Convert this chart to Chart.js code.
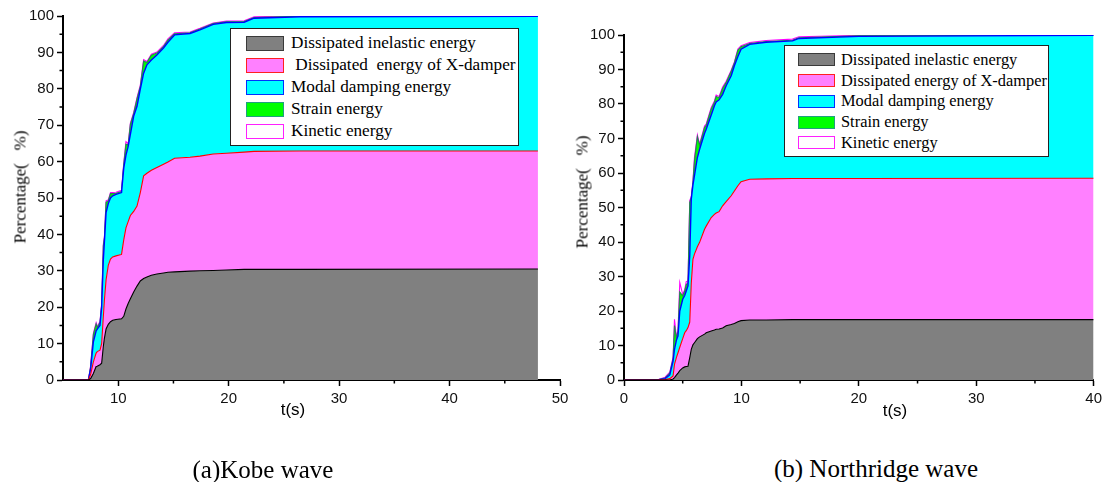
<!DOCTYPE html>
<html>
<head>
<meta charset="utf-8">
<script src="https://cdn.jsdelivr.net/npm/chart.js@4.4.1/dist/chart.umd.min.js"></script>
<style>
  body { margin: 0; background: #fff; width: 1106px; height: 482px; overflow: hidden; position: relative; }
  .box { position: absolute; }
  .txt { position: absolute; white-space: pre; color: #000; line-height: 1; }
  .legend { position: absolute; border: 1.5px solid #222; background: #fff; box-sizing: border-box; font-family: 'Liberation Serif', 'Times New Roman', serif; color: #000; }
  .legend .row { display: flex; align-items: center; white-space: pre; }
  .legend .sw { box-sizing: border-box; border: 1.5px solid; flex: none; }
</style>
</head>
<body>
<div class="box" style="left:0;top:0;width:580px;height:430px"><canvas id="kobe" width="580" height="430"></canvas></div>
<div class="box" style="left:560px;top:0;width:546px;height:430px"><canvas id="north" width="546" height="430"></canvas></div>
<script>
// Kobe wave - tiempo y porcentajes acumulados (borde superior de cada capa)
const kobeTime = [5, 7.3, 7.5, 7.75, 8.0, 8.1, 8.35, 8.5, 8.65, 8.75, 8.9, 9.1, 9.3, 9.5, 9.8, 10.3, 10.5, 10.7, 10.9, 11.1, 11.4, 11.7, 12.0, 12.3, 12.6, 13.0, 13.5, 14.1, 14.5, 15.1, 16.5, 17.4, 18.6, 19.8, 21.4, 22.3, 26.5, 48];
const kobeInelastic = [0, 0, 0.4, 1.8, 3.7, 3.8, 4.2, 4.6, 9.2, 11.5, 14.0, 15.3, 16.0, 16.4, 16.6, 16.8, 17.5, 19.5, 21.0, 22.3, 24.2, 25.8, 27.2, 27.9, 28.3, 28.8, 29.1, 29.4, 29.6, 29.7, 29.9, 30.0, 30.1, 30.2, 30.4, 30.4, 30.4, 30.5];
const kobeDamper = [0, 0, 1.5, 5, 7.4, 7.8, 8.2, 10, 17.4, 22, 27.5, 31.5, 33.2, 33.8, 34.1, 34.5, 38.5, 41.8, 43.5, 45.2, 46.3, 47.8, 51.5, 56.1, 56.8, 57.6, 58.4, 59.3, 59.9, 60.9, 61.2, 61.5, 62.1, 62.3, 62.6, 62.8, 62.9, 62.9];
const kobeModal = [0, 0, 3, 10.5, 13.5, 14, 15, 20, 33, 38, 46, 48.5, 50, 50.6, 51, 51.5, 58.2, 61.8, 64.2, 67.5, 72.5, 75.2, 79.9, 84.3, 86.6, 87.9, 89.3, 91.2, 92.8, 94.8, 95.2, 96.2, 97.7, 98.2, 98.3, 99.4, 99.8, 99.9];
const kobeStrain = [0, 0, 3.6, 12.5, 15.4, 14.4, 15.8, 20.6, 36.8, 39, 48.8, 49.2, 51.2, 51.2, 51.3, 51.8, 59.2, 64.8, 64.6, 70.2, 73.2, 77.2, 80.6, 87.6, 87.2, 89.2, 89.8, 91.6, 93.4, 95.1, 95.4, 96.4, 97.9, 98.4, 98.5, 99.6, 99.9, 99.95];
const kobeKinetic = [0, 0, 3.9, 12.8, 15.7, 14.7, 16.1, 20.9, 37.2, 39.3, 49.2, 49.5, 51.5, 51.5, 51.6, 52.1, 59.6, 65.5, 64.9, 70.6, 73.5, 77.6, 81, 88, 87.5, 89.5, 90.1, 91.9, 93.7, 95.4, 95.6, 96.6, 98.1, 98.6, 98.7, 99.8, 100, 100];
const kobeXTicks = [10, 20, 30, 40, 50];

// Northridge wave
const northTime = [0, 2.8, 3.5, 3.9, 4.18, 4.3, 4.46, 4.6, 4.75, 5.0, 5.17, 5.3, 5.45, 5.6, 5.73, 5.87, 6.0, 6.25, 6.44, 6.86, 7.0, 7.43, 7.7, 7.85, 8.1, 8.4, 8.7, 9.13, 9.4, 9.7, 9.97, 10.7, 12.1, 14.35, 14.9, 20, 40];
const northInelastic = [0, 0, 0, 0, 0.3, 0.7, 1.4, 2.0, 2.7, 3.5, 3.8, 3.9, 4.0, 6.5, 8.9, 10.2, 10.8, 12.0, 12.5, 13.3, 13.7, 14.2, 14.5, 14.7, 14.8, 15.1, 15.7, 16.1, 16.4, 16.9, 17.2, 17.4, 17.4, 17.5, 17.5, 17.5, 17.5];
const northDamper = [0, 0, 0.1, 0.4, 1.2, 4.5, 6.5, 7.9, 9.5, 12, 13.7, 14.3, 15.2, 16.8, 28, 35, 36.5, 38.6, 39.9, 43.7, 44.6, 47.1, 48, 48.4, 48.8, 50.5, 51.7, 53.4, 54.8, 56.3, 57.5, 58.2, 58.3, 58.4, 58.4, 58.4, 58.5];
const northModal = [0, 0, 0.4, 1.5, 5.5, 8.9, 11.5, 12.8, 20, 23.4, 24.5, 25.8, 27.3, 36, 52.4, 56.5, 59.2, 64.5, 66.9, 71.5, 72.7, 76.8, 79.5, 80.6, 81.2, 82.8, 85.3, 88.2, 91.1, 93.8, 95.9, 97.3, 97.9, 98.3, 99, 99.6, 99.9];
const northStrain = [0, 0, 0.6, 2.0, 6.2, 15.8, 12.2, 14, 25.5, 24.4, 25.8, 27.6, 28.2, 51.5, 52.8, 57.2, 63.5, 70.5, 68, 73.2, 73.8, 78.6, 80.5, 82.2, 81.8, 84.5, 86.2, 89.5, 91.9, 95.6, 96.6, 97.5, 98.1, 98.5, 99.2, 99.75, 99.95];
const northKinetic = [0, 0, 0.8, 2.3, 6.6, 17.6, 12.6, 14.4, 28.3, 24.8, 26.2, 28.5, 28.7, 52, 53.2, 57.6, 64.5, 71, 68.4, 73.6, 74.2, 79, 80.9, 82.6, 82.2, 84.9, 86.6, 89.8, 92.2, 95.9, 96.9, 97.8, 98.4, 98.8, 99.5, 99.9, 100];
const northXTicks = [0, 10, 20, 30, 40];

const yTicks = [0, 10, 20, 30, 40, 50, 60, 70, 80, 90, 100];

const kobeLabels = ['Dissipated inelastic energy', ' Dissipated  energy of X-damper', 'Modal damping energy', 'Strain energy', 'Kinetic energy'];
const northLabels = ['Dissipated inelastic energy', 'Dissipated energy of X-damper', 'Modal damping energy', 'Strain energy', 'Kinetic energy'];

// colores de cada capa
const fills = ['#808080', '#ff80ff', '#00ffff', '#00ff00', '#ffffff'];
const lines = ['#000000', '#ff0000', '#0000ff', '#1e8a50', '#ff00ff'];
const swatchBorders = ['#3a3a3a', '#ff2020', '#0030ff', '#20a080', '#ff20ff'];

Chart.defaults.font.family = "'Liberation Sans', Arial, sans-serif";
Chart.defaults.color = '#111';

// rayitas menores entre las marcas principales
const minorTicks = {
    id: 'minorTicks',
    afterDraw(chart){
        const ctx = chart.ctx;
        const area = chart.chartArea;
        const xs = chart.scales.x;
        const ys = chart.scales.y;
        ctx.save();
        ctx.strokeStyle = '#000';
        ctx.lineWidth = 1.5;
        ctx.beginPath();
        for(let i = 1; i < xs.ticks.length; i++){
            let p = xs.getPixelForValue((xs.ticks[i-1].value + xs.ticks[i].value) / 2);
            ctx.moveTo(p, area.bottom);
            ctx.lineTo(p, area.bottom + 3.5);
        }
        for(let i = 1; i < ys.ticks.length; i++){
            let p = ys.getPixelForValue((ys.ticks[i-1].value + ys.ticks[i].value) / 2);
            ctx.moveTo(area.left, p);
            ctx.lineTo(area.left - 3.5, p);
        }
        ctx.stroke();
        ctx.restore();
    }
};

function makeSeries(time, layers, labels){
    return layers.map((vals, i) => ({
        label: labels[i],
        data: time.map((t, k) => ({x: t, y: vals[k]})),
        backgroundColor: fills[i],
        borderColor: lines[i],
        borderWidth: i === 2 ? 1.4 : 1.1,
        pointRadius: 0,
        tension: 0,
        fill: i === 0 ? 'origin' : '-1'
    }));
}

function makeChart(id, datasets, xMin, xMax, xTicks, yWidth, pad){
    return new Chart(document.getElementById(id), {
        type: 'line',
        data: { datasets: datasets },
        options: {
            responsive: false,
            animation: false,
            layout: { padding: pad },
            plugins: { legend: { display: false }, tooltip: { enabled: false } },
            scales: {
                x: {
                    type: 'linear',
                    min: xMin,
                    max: xMax,
                    afterBuildTicks: (s) => { s.ticks = xTicks.map(v => ({value: v})); },
                    afterFit: (s) => { s.height = 50; },
                    ticks: { font: { size: 15 }, padding: 4, maxRotation: 0 },
                    grid: { drawOnChartArea: false, tickLength: 6, tickColor: '#000', tickWidth: 1.5 },
                    border: { color: '#000', width: 2 }
                },
                y: {
                    min: 0,
                    max: 100,
                    afterBuildTicks: (s) => { s.ticks = yTicks.map(v => ({value: v})); },
                    afterFit: (s) => { s.width = yWidth; },
                    ticks: { font: { size: 15 }, padding: 3 },
                    grid: { drawOnChartArea: false, tickLength: 6, tickColor: '#000', tickWidth: 1.5 },
                    border: { color: '#000', width: 2 }
                }
            }
        },
        plugins: [minorTicks]
    });
}

const kobeChart = makeChart('kobe',
    makeSeries(kobeTime, [kobeInelastic, kobeDamper, kobeModal, kobeStrain, kobeKinetic], kobeLabels),
    5, 50, kobeXTicks, 63, {top: 16, right: 20, left: 0, bottom: 0});

const northChart = makeChart('north',
    makeSeries(northTime, [northInelastic, northDamper, northModal, northStrain, northKinetic], northLabels),
    0, 40, northXTicks, 64, {top: 35, right: 10, left: 0, bottom: 0});

// Leyenda en HTML a partir de los datasets
function legend(chart, box){
    let div = document.createElement('div');
    div.className = 'legend';
    div.style.left = box.left + 'px';
    div.style.top = box.top + 'px';
    div.style.width = box.width + 'px';
    div.style.height = box.height + 'px';
    div.style.paddingTop = box.padTop + 'px';
    div.style.paddingLeft = box.padLeft + 'px';
    div.style.fontSize = box.font + 'px';
    chart.data.datasets.forEach((ds, i) => {
        let row = document.createElement('div');
        row.className = 'row';
        row.style.height = box.rowH + 'px';
        let sw = document.createElement('span');
        sw.className = 'sw';
        sw.style.width = box.swW + 'px';
        sw.style.height = box.swH + 'px';
        sw.style.background = ds.backgroundColor;
        sw.style.borderColor = swatchBorders[i];
        sw.style.marginRight = box.gap + 'px';
        let tx = document.createElement('span');
        tx.textContent = ds.label;
        row.appendChild(sw);
        row.appendChild(tx);
        div.appendChild(row);
    });
    document.body.appendChild(div);
}

legend(kobeChart, {left: 230, top: 28, width: 289, height: 118, padTop: 3, padLeft: 15, rowH: 22, swW: 38, swH: 15, gap: 7, font: 17.2});
legend(northChart, {left: 784, top: 45, width: 265, height: 112, padTop: 3.5, padLeft: 13, rowH: 20.75, swW: 37, swH: 13, gap: 6, font: 16.4});

// Textos: títulos de ejes y subtítulos
function text(str, cx, cy, css, rot){
    let d = document.createElement('div');
    d.className = 'txt';
    d.textContent = str;
    d.style.cssText += css;
    d.style.left = cx + 'px';
    d.style.top = cy + 'px';
    d.style.transform = 'translate(-50%,-50%)' + (rot ? ' rotate(-90deg)' : '');
    document.body.appendChild(d);
}
const serif = "font-family:'Liberation Serif','Times New Roman',serif;";
const sans = "font-family:'Liberation Sans',Arial,sans-serif;";
text('Percentage(   %)', 20, 187, serif + 'font-size:17px;', true);
text('Percentage(   %)', 582, 192, serif + 'font-size:17px;', true);
text('t(s)', 293, 409, sans + 'font-size:17px;');
text('t(s)', 895, 410, sans + 'font-size:17px;');
text('(a)Kobe wave', 263, 469, serif + 'font-size:25px;');
text('(b) Northridge wave', 876, 468, serif + 'font-size:25px;');
</script>
</body>
</html>
